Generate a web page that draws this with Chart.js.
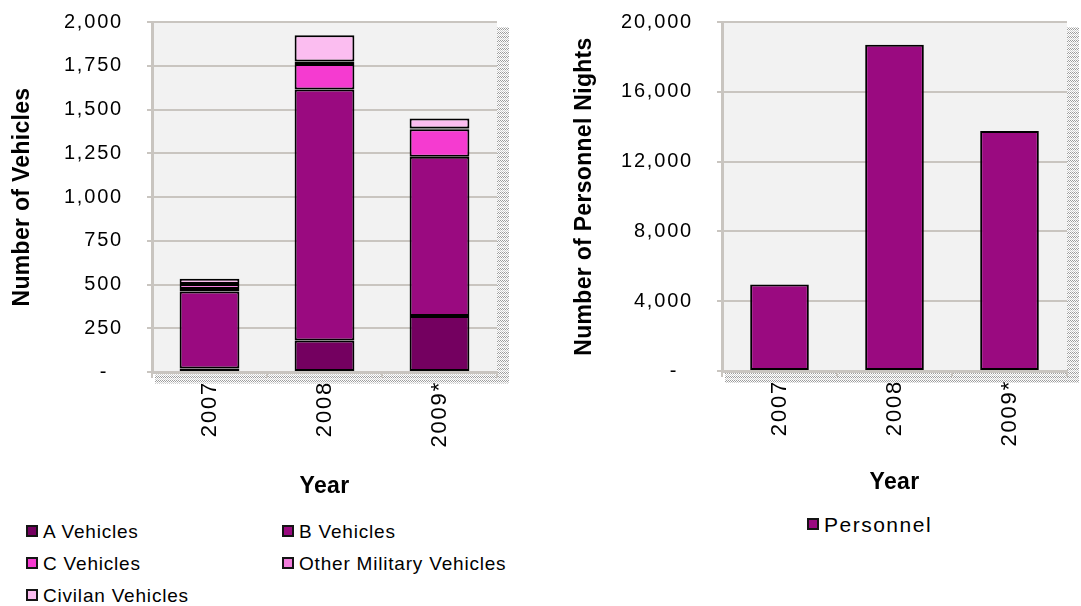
<!DOCTYPE html>
<html><head><meta charset="utf-8">
<script src="https://cdn.jsdelivr.net/npm/chart.js@4.4.1/dist/chart.umd.min.js"></script>
<style>
html,body{margin:0;padding:0;background:#fff;width:1081px;height:606px;overflow:hidden;font-family:"Liberation Sans",Arial,sans-serif;}
#left{position:absolute;left:0;top:0;width:540px;height:500px;}
#right{position:absolute;left:540px;top:0;width:541px;height:500px;}
.leg{position:absolute;display:flex;align-items:center;color:#000;white-space:nowrap;line-height:1;}
.leg .box{width:12px;height:12px;box-sizing:border-box;border:2px solid #151515;margin-right:5px;flex:none;}
</style></head><body>
<div id="left"><canvas id="c1"></canvas></div>
<div id="right"><canvas id="c2"></canvas></div>
<div id="legends"></div>
<script>
// ---- data ----
const years = ['2007', '2008', '2009*'];
const vehicleSeries = ['A Vehicles', 'B Vehicles', 'C Vehicles', 'Other Military Vehicles', 'Civilan Vehicles'];
const aVehicles = [20, 180, 320];
const bVehicles = [440, 1435, 910];
const cVehicles = [15, 145, 157];
const otherMilitary = [28, 15, 5];
const civilian = [30, 150, 56];
const personnelSeries = 'Personnel';
const personnelNights = [4950, 18700, 13750];
const vehicleTicks = [0, 2000, 250];     // min, max, step
const personnelTicks = [0, 20000, 4000]; // min, max, step
const vehicleColors = ['#740060', '#9a0a80', '#f53bd0', '#f27ddc', '#fbbdf0'];
const personnelColor = '#9a0a80';

const F = '"Liberation Sans", Arial, sans-serif';
const GRID = '#c9c5c0';
const LS = '1.8px';
const TITLE_LS = '0.3px';

const spacing = {
  id: 'spacing',
  beforeUpdate(c) { c.ctx.letterSpacing = LS; },
  beforeLayout(c) { c.ctx.letterSpacing = LS; },
  beforeDraw(c) {
    c.ctx.letterSpacing = LS;
    Object.values(c.scales).forEach(s => {
      if (s._ttlPatched) return;
      const orig = s.drawTitle;
      s.drawTitle = function () {
        const ctx = this.ctx, prev = ctx.letterSpacing;
        ctx.letterSpacing = TITLE_LS;
        orig.apply(this, arguments);
        ctx.letterSpacing = prev;
      };
      s._ttlPatched = true;
    });
  }
};
function makePattern(ctx) {
  const p = document.createElement('canvas'); p.width = 4; p.height = 4;
  const g = p.getContext('2d');
  g.fillStyle = '#fff'; g.fillRect(0, 0, 4, 4);
  g.fillStyle = '#9c9c9c';
  [[0,0],[2,0],[1,1],[3,1]].forEach(([x,y]) => g.fillRect(x, y, 1, 1));
  g.fillStyle = '#cfcfcf';
  [[0,2],[2,2],[1,3],[3,3]].forEach(([x,y]) => g.fillRect(x, y, 1, 1));
  return ctx.createPattern(p, 'repeat');
}
const wall = {
  id: 'wall',
  beforeDraw(c) {
    const {ctx, chartArea: a} = c;
    ctx.save();
    ctx.fillStyle = makePattern(ctx);
    ctx.fillRect(a.right, a.top + 5, 12, a.bottom - a.top + 7);
    ctx.fillRect(a.left + 3, a.bottom, a.right - a.left + 9, 12);
    ctx.fillStyle = '#f2f2f2';
    ctx.fillRect(a.left, a.top, a.right - a.left, a.bottom - a.top);
    ctx.restore();
  }
};

function yScale(t, text, titlePad, w, stacked) {
  return {
    stacked: stacked, min: t[0], max: t[1],
    ticks: { stepSize: t[2], color: '#000', font: {family: F, size: 20}, padding: 24,
      callback: v => v === 0 ? '-  ' : v.toLocaleString('en-US') },
    grid: { color: GRID, lineWidth: 2, tickLength: 5, drawTicks: true },
    border: { display: true, color: GRID, width: 3 },
    title: { display: true, text: text, color: '#000', font: {family: F, size: 23, weight: 'bold'},
      padding: {top: titlePad, bottom: 0} },
    afterFit(s) { s.width = w; s.paddingTop = 10; s.paddingBottom = 10; }
  };
}
function xScale(h, titlePadBottom, stacked) {
  return {
    stacked: stacked,
    ticks: { color: '#000', font: {family: F, size: 22}, maxRotation: 90, minRotation: 90, padding: 3 },
    grid: { display: true, drawOnChartArea: false, drawTicks: true, tickLength: 6, color: GRID, lineWidth: 2, offset: true },
    border: { display: true, color: GRID, width: 3 },
    title: { display: true, text: 'Year', color: '#000', font: {family: F, size: 23, weight: 'bold'},
      padding: {top: 0, bottom: titlePadBottom} },
    afterFit(s) { s.height = h; }
  };
}

const vehicleData = [aVehicles, bVehicles, cVehicles, otherMilitary, civilian];
new Chart(document.getElementById('c1'), {
  type: 'bar',
  data: {
    labels: years,
    datasets: vehicleSeries.map((name, i) => ({
      label: name, data: vehicleData[i], backgroundColor: vehicleColors[i],
      borderColor: '#000', borderWidth: 2, borderSkipped: false,
      categoryPercentage: 1, barPercentage: 0.52
    }))
  },
  options: {
    responsive: true, maintainAspectRatio: false, animation: false,
    layout: { padding: {top: 22, left: 0, right: 43, bottom: 0} },
    plugins: { legend: {display: false}, tooltip: {enabled: false} },
    scales: { x: xScale(128, 0, true), y: yScale(vehicleTicks, 'Number of Vehicles', 9, 152, true) }
  },
  plugins: [spacing, wall]
});

new Chart(document.getElementById('c2'), {
  type: 'bar',
  data: {
    labels: years,
    datasets: [{
      label: personnelSeries, data: personnelNights, backgroundColor: personnelColor,
      borderColor: '#000', borderWidth: 2, borderSkipped: false,
      categoryPercentage: 1, barPercentage: 0.51
    }]
  },
  options: {
    responsive: true, maintainAspectRatio: false, animation: false,
    layout: { padding: {top: 22, left: 0, right: 14, bottom: 0} },
    plugins: { legend: {display: false}, tooltip: {enabled: false} },
    scales: { x: xScale(129, 4, false), y: yScale(personnelTicks, 'Number of Personnel Nights', 31, 182, false) }
  },
  plugins: [spacing, wall]
});

// ---- HTML legends ----
const legHost = document.getElementById('legends');
function addLeg(text, color, x, y, size, ls) {
  const d = document.createElement('div');
  d.className = 'leg';
  d.style.left = x + 'px'; d.style.top = (y - size / 2) + 'px';
  d.style.fontSize = size + 'px'; d.style.letterSpacing = ls; d.style.height = size + 'px';
  const b = document.createElement('span'); b.className = 'box'; b.style.background = color;
  const t = document.createElement('span'); t.textContent = text;
  d.appendChild(b); d.appendChild(t);
  legHost.appendChild(d);
}
const legPos = [[26, 531], [282, 531], [26, 563], [282, 563], [26, 595]];
vehicleSeries.forEach((n, i) => addLeg(n, vehicleColors[i], legPos[i][0], legPos[i][1], 19, '0.8px'));
addLeg(personnelSeries, personnelColor, 807, 524, 21, '1.5px');
</script>
</body></html>
